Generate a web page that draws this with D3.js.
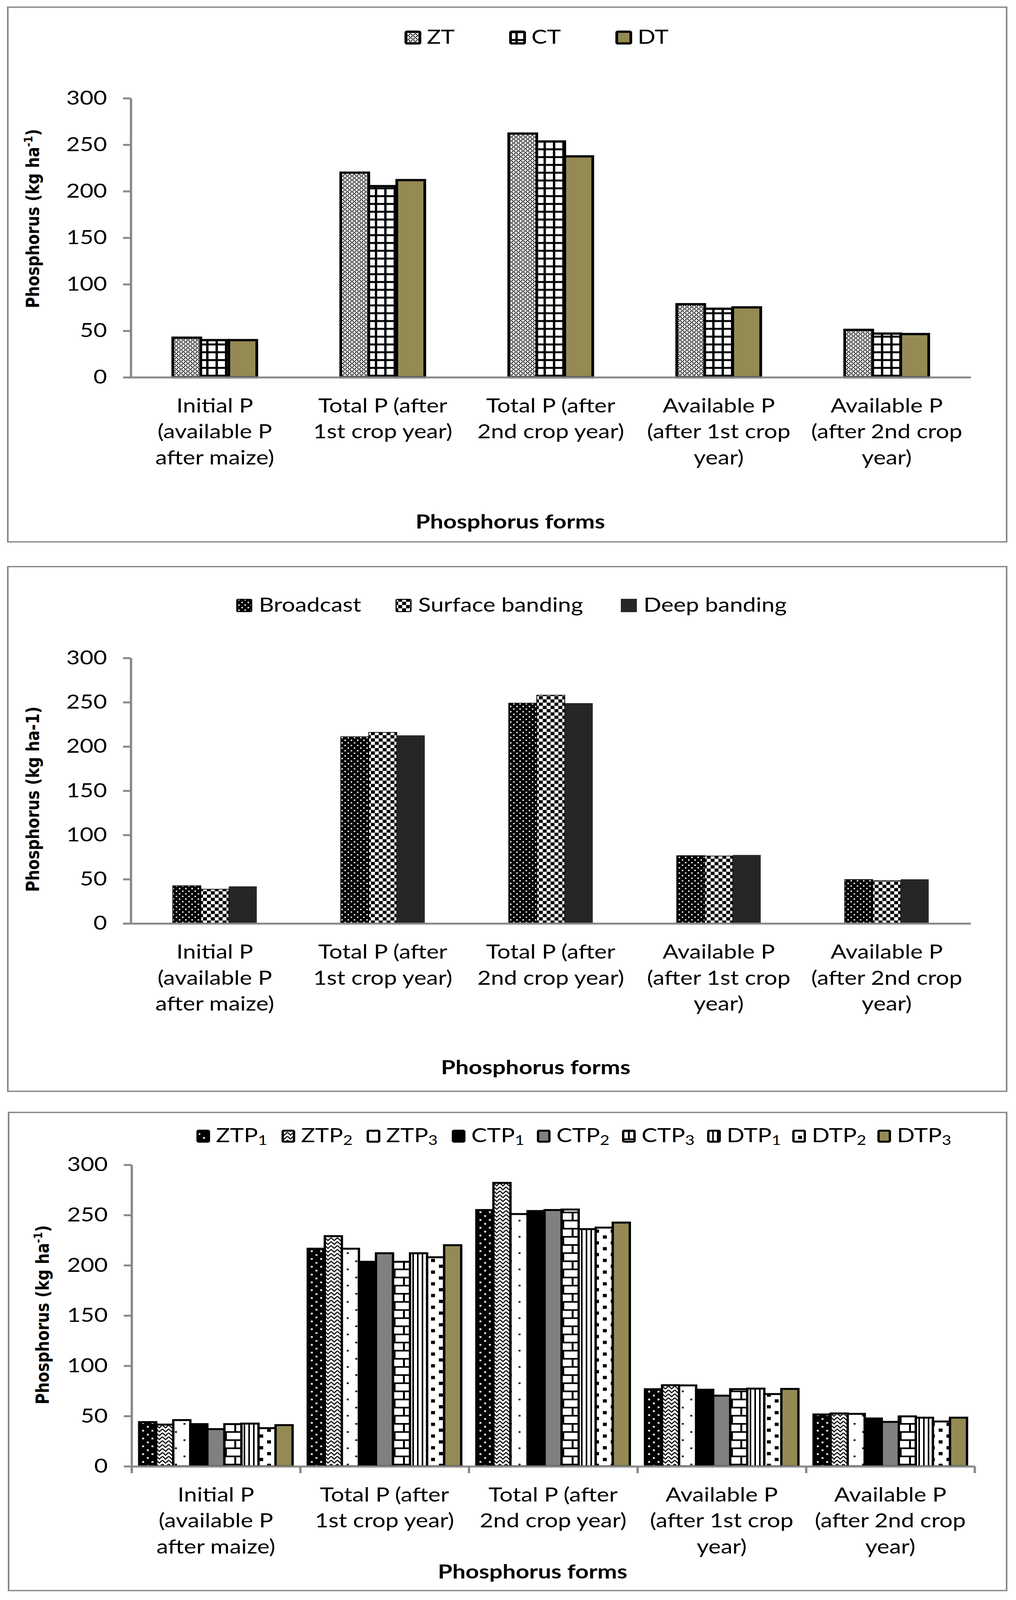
<!DOCTYPE html>
<html>
<head>
<meta charset="utf-8">
<script src="https://cdn.jsdelivr.net/npm/d3@7"></script>
<style>
  body { margin: 0; background: #fff; overflow: hidden; }
  text { font-family: Lato, "Open Sans", sans-serif; }
</style>
</head>
<body>
<svg id="chart"></svg>
<script>
// categories (x axis), one array of lines per label
var categories = [
    ["Initial P", "(available P", "after maize)"],
    ["Total P (after", "1st crop year)"],
    ["Total P (after", "2nd crop year)"],
    ["Available P", "(after 1st crop", "year)"],
    ["Available P", "(after 2nd crop", "year)"]
];
var yTicks = [0, 50, 100, 150, 200, 250, 300];

// chart 1 - tillage
var tillageNames = ["ZT", "CT", "DT"];
var ztValues = [42.6, 220, 262, 78.6, 51];
var ctValues = [40, 205.5, 253.5, 73.7, 47];
var dtValues = [40, 212, 237.5, 75.2, 46.5];

// chart 2 - placement
var placementNames = ["Broadcast", "Surface banding", "Deep banding"];
var broadcastValues = [42.6, 211, 249, 76.6, 49.6];
var surfaceValues = [38.7, 216, 258, 76.2, 48.3];
var deepValues = [41.9, 212.6, 249, 77.4, 49.9];

// chart 3 - tillage x placement
var comboNames = ["ZTP", "ZTP", "ZTP", "CTP", "CTP", "CTP", "DTP", "DTP", "DTP"];
var comboSubs = ["1", "2", "3", "1", "2", "3", "1", "2", "3"];
var ztp1 = [44, 216.5, 255, 76.7, 51.6];
var ztp2 = [41.5, 229, 282, 80.7, 52.6];
var ztp3 = [46, 216.5, 251, 80.5, 52.2];
var ctp1 = [42, 203.5, 254, 76.2, 47.6];
var ctp2 = [37, 212, 255, 70.3, 44.2];
var ctp3 = [42, 203.5, 255.5, 76.8, 49.7];
var dtp1 = [42.5, 212, 236, 77.3, 48.4];
var dtp2 = [38, 208, 237.5, 71.9, 44.6];
var dtp3 = [41, 220, 242.5, 77, 48.4];

// the layout is drawn at 2602x4919 and fitted into whatever the window gives
var W = 2602, H = 4919;
var svg = d3.select("#chart")
    .attr("width", window.innerWidth || W)
    .attr("height", window.innerHeight || H)
    .attr("viewBox", "0 0 " + W + " " + H)
    .attr("preserveAspectRatio", "none");
var defs = svg.append("defs");

// pattern helpers
function pattern(id, w, h, bg) {
    var p = defs.append("pattern").attr("id", id)
        .attr("patternUnits", "userSpaceOnUse")
        .attr("width", w).attr("height", h);
    p.append("rect").attr("width", w).attr("height", h).attr("fill", bg);
    return p;
}
function boxes(p, list, c) {
    list.forEach(function(b) {
        p.append("rect").attr("x", b[0]).attr("y", b[1])
            .attr("width", b[2]).attr("height", b[3]).attr("fill", c);
    });
}

// ZT: dotted diamond
boxes(pattern("zt", 12, 12, "#fff"),
    [[0,0,3,3],[3,3,3,3],[6,6,3,3],[9,9,3,3],[9,3,3,3],[3,9,3,3]], "#000");
// CT: grid
boxes(pattern("ct", 24, 24, "#fff"), [[0,0,24,6],[0,0,6,24]], "#000");
// Broadcast: black with white dots
boxes(pattern("bc", 16, 16, "#000"), [[2,2,4,4],[10,10,4,4]], "#fff");
// Surface banding: checker
boxes(pattern("sb", 20, 20, "#fff"), [[0,0,10,10],[10,10,10,10]], "#000");
// ZTP1: black with white dots
boxes(pattern("ztp1", 24, 24, "#000"), [[4,4,5,5],[16,16,5,5]], "#fff");
// ZTP2: zig zag
pattern("ztp2", 16, 12, "#fff").append("path")
    .attr("d", "M0,1 L8,10 L16,1").attr("fill", "none")
    .attr("stroke", "#000").attr("stroke-width", 3);
// ZTP3: sparse dots
boxes(pattern("ztp3", 44, 50, "#fff"), [[8,0,5,5],[30,25,5,5]], "#000");
// CTP3: horizontal brick
boxes(pattern("ctp3", 48, 50, "#fff"),
    [[0,0,48,5],[0,25,48,5],[0,0,5,25],[24,25,5,25]], "#000");
// DTP1: vertical stripes
boxes(pattern("dtp1", 12, 10, "#fff"), [[0,0,4,10]], "#000");
// DTP2: large confetti
boxes(pattern("dtp2", 40, 36, "#fff"), [[4,0,10,10],[24,18,10,10]], "#000");

var charts = [
    {
        frame: [20, 22, 2558, 1644],
        left: 335, right: 2486, top: 302, bottom: 1160, pad: 0.5,
        series: [ztValues, ctValues, dtValues],
        names: tillageNames, subs: null,
        fills: ["url(#zt)", "url(#ct)", "#948A54"],
        barStroke: [7, 7, 7],
        legend: { y: 94, w: 43, h: 43, lefts: [1036, 1304, 1576], gap: 14, base: 135, stroke: 7 },
        yTitle: { x: 100, y: 672, sup: true },
        xTitle: { x: 1307, y: 1625 },
        xTick: 0
    },
    {
        frame: [20, 1742, 2558, 1613],
        left: 335, right: 2486, top: 2023, bottom: 2839, pad: 0.5,
        series: [broadcastValues, surfaceValues, deepValues],
        names: placementNames, subs: null,
        fills: ["url(#bc)", "url(#sb)", "#262626"],
        barStroke: [2, 2, 0],
        legend: { y: 1841, w: 41, h: 41, lefts: [605, 1013, 1590], gap: 17, base: 1881, stroke: [3, 3, 0] },
        yTitle: { x: 100, y: 2457, sup: false },
        xTitle: { x: 1372, y: 3303 },
        xTick: 0
    },
    {
        frame: [22, 3420, 2556, 1470],
        left: 337, right: 2496, top: 3581, bottom: 4508, pad: 0.09,
        series: [ztp1, ztp2, ztp3, ctp1, ctp2, ctp3, dtp1, dtp2, dtp3],
        names: comboNames, subs: comboSubs,
        fills: ["url(#ztp1)", "url(#ztp2)", "url(#ztp3)", "#000", "#808080",
                "url(#ctp3)", "url(#dtp1)", "url(#dtp2)", "#948A54"],
        barStroke: [6, 6, 6, 6, 6, 6, 6, 6, 6],
        legend: { y: 3473, w: 35, h: 40, lefts: d3.range(9).map(function(i) { return 503 + 218 * i; }),
                  gap: 15, base: 3512, stroke: 6 },
        yTitle: { x: 125, y: 4042, sup: true },
        xTitle: { x: 1364, y: 4853 },
        xTick: 21
    }
];

charts.forEach(drawChart);

function drawChart(cfg) {
    var g = svg.append("g");

    // outer frame
    g.append("rect")
        .attr("x", cfg.frame[0]).attr("y", cfg.frame[1])
        .attr("width", cfg.frame[2]).attr("height", cfg.frame[3])
        .attr("fill", "none").attr("stroke", "#868686").attr("stroke-width", 4);

    var x0 = d3.scaleBand().domain(d3.range(categories.length))
        .range([cfg.left, cfg.right])
        .paddingInner(cfg.pad).paddingOuter(cfg.pad / 2);
    var x1 = d3.scaleBand().domain(d3.range(cfg.series.length))
        .range([0, x0.bandwidth()]);
    var y = d3.scaleLinear().domain([0, 300]).range([cfg.bottom, cfg.top]);

    // bars
    cfg.series.forEach(function(vals, j) {
        g.append("g").selectAll("rect")
            .data(vals)
            .enter().append("rect")
            .attr("x", function(d, i) { return x0(i) + x1(j); })
            .attr("y", function(d) { return y(d); })
            .attr("width", x1.bandwidth())
            .attr("height", function(d) { return y(0) - y(d); })
            .attr("fill", cfg.fills[j])
            .attr("stroke", cfg.barStroke[j] ? "#000" : "none")
            .attr("stroke-width", cfg.barStroke[j]);
    });

    // y axis
    var yAxis = g.append("g")
        .attr("transform", "translate(" + cfg.left + ",0)")
        .call(d3.axisLeft(y).tickValues(yTicks).tickSize(20).tickPadding(41).tickSizeOuter(0));
    // x axis (boundary ticks only on the last chart)
    var xb = d3.scaleLinear().domain([0, categories.length]).range([cfg.left, cfg.right]);
    var xAxis = g.append("g")
        .attr("transform", "translate(0," + cfg.bottom + ")")
        .call(d3.axisBottom(xb).tickValues(d3.range(categories.length + 1))
            .tickFormat("").tickSize(cfg.xTick).tickSizeOuter(0));

    [yAxis, xAxis].forEach(function(a) {
        a.attr("font-size", null).attr("font-family", null);
        a.selectAll(".domain, line").attr("stroke", "#898989").attr("stroke-width", 6);
        a.selectAll("text").attr("font-size", 60).attr("fill", "#000");
    });

    // category labels
    var lab = g.append("g").selectAll("text")
        .data(categories)
        .enter().append("text")
        .attr("text-anchor", "middle")
        .attr("font-size", 60);
    lab.each(function(lines, i) {
        var t = d3.select(this);
        lines.forEach(function(line, k) {
            t.append("tspan")
                .attr("x", x0(i) + x0.bandwidth() / 2)
                .attr("y", cfg.bottom + 108 + k * 80)
                .text(line);
        });
    });

    // legend
    var L = cfg.legend;
    cfg.names.forEach(function(name, j) {
        var sw = Array.isArray(L.stroke) ? L.stroke[j] : L.stroke;
        var lx = L.lefts[j];
        g.append("rect")
            .attr("x", lx + sw / 2).attr("y", L.y + sw / 2)
            .attr("width", L.w - sw).attr("height", L.h - sw)
            .attr("rx", sw ? 3 : 0)
            .attr("fill", cfg.fills[j])
            .attr("stroke", sw ? "#000" : "none")
            .attr("stroke-width", sw);
        var t = g.append("text")
            .attr("x", lx + L.w + L.gap).attr("y", L.base)
            .attr("font-size", 60);
        t.append("tspan").text(name);
        if (cfg.subs) {
            t.append("tspan").attr("font-size", 42).attr("dy", 8).text(cfg.subs[j]);
        }
    });

    // axis titles
    var yt = g.append("text")
        .attr("transform", "translate(" + cfg.yTitle.x + "," + cfg.yTitle.y + ") rotate(-90)")
        .attr("text-anchor", "middle")
        .style("font-family", "'DejaVu Sans', Verdana, sans-serif")
        .attr("font-weight", "bold")
        .attr("font-size", 47);
    if (cfg.yTitle.sup) {
        yt.append("tspan").text("Phosphorus (kg ha");
        yt.append("tspan").attr("font-size", 30).attr("dy", -17).text("-1");
        yt.append("tspan").attr("dy", 17).text(")");
    } else {
        yt.text("Phosphorus (kg ha-1)");
    }

    g.append("text")
        .attr("x", cfg.xTitle.x).attr("y", cfg.xTitle.y)
        .attr("text-anchor", "middle")
        .attr("font-weight", "bold")
        .attr("font-size", 60)
        .text("Phosphorus forms");
}
</script>
</body>
</html>
